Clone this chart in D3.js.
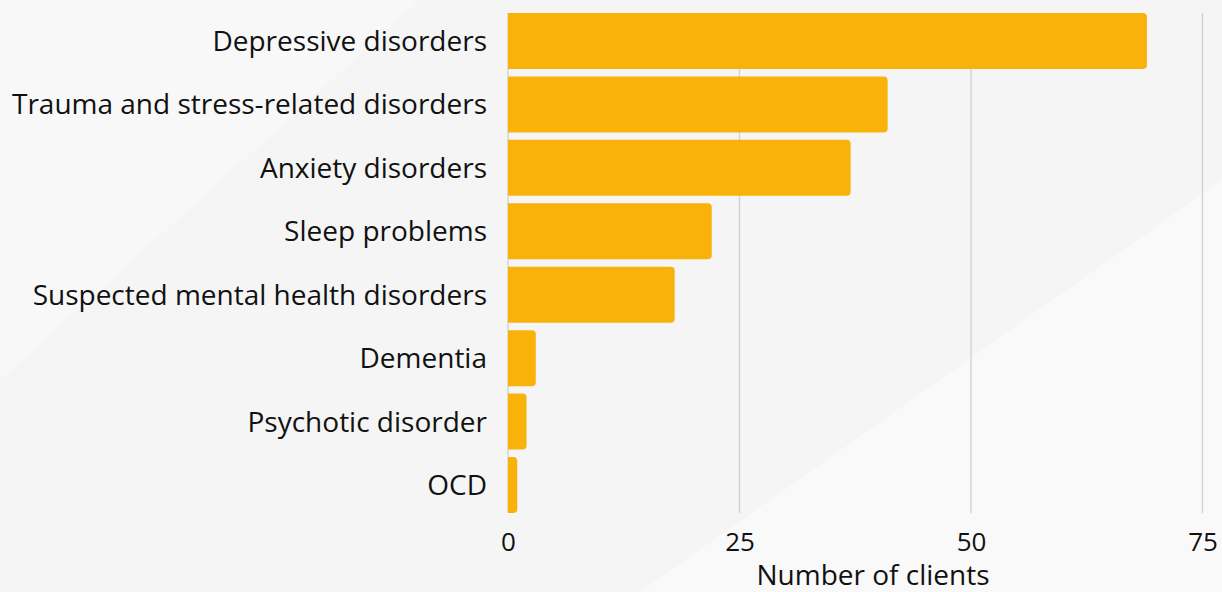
<!DOCTYPE html>
<html><head><meta charset="utf-8">
<script src="https://cdn.jsdelivr.net/npm/d3@7"></script>
<style>html,body{margin:0;padding:0;background:#f6f6f6;}svg{display:block;}</style>
</head><body>
<svg id="chart" width="1222" height="592"></svg>
<script>
const categories = ["Depressive disorders","Trauma and stress-related disorders","Anxiety disorders","Sleep problems","Suspected mental health disorders","Dementia","Psychotic disorder","OCD"];
const values = [69, 41, 37, 22, 18, 3, 2, 1];
const tickValues = [0, 25, 50, 75];
const axisTitle = "Number of clients";

const W = 1222, H = 592;
const svg = d3.select("#chart");
const font = "'Open Sans', sans-serif";

// subtle background shapes
svg.append("rect").attr("width", W).attr("height", H).attr("fill", "#f5f5f5");
svg.append("polygon").attr("points", "0,0 420,0 0,380").attr("fill", "#f8f8f8");
svg.append("polygon").attr("points", "640,592 1222,180 1222,592").attr("fill", "#f9f9f9");

const x = d3.scaleLinear().domain([0, 75]).range([508, 1202.5]);
const y = d3.scaleBand().domain(categories).range([9.3, 516.7]).paddingInner(0.117).paddingOuter(0.058);

// gridlines
svg.append("g").selectAll("line").data(tickValues).join("line")
  .attr("x1", d => x(d)).attr("x2", d => x(d))
  .attr("y1", 13).attr("y2", 513)
  .attr("stroke", "#cfcfcf").attr("stroke-width", 1.3);

// bars with right rounded corners
const r = 4;
svg.append("g").selectAll("path").data(values).join("path")
  .attr("fill", "#F9B20A")
  .attr("d", (d, i) => {
    const x0 = x(0), x1 = x(d), y0 = y(categories[i]), h = y.bandwidth();
    const rr = Math.min(r, (x1 - x0) / 2);
    return `M${x0},${y0}H${x1 - rr}Q${x1},${y0} ${x1},${y0 + rr}V${y0 + h - rr}Q${x1},${y0 + h} ${x1 - rr},${y0 + h}H${x0}Z`;
  });

// y labels
svg.append("g").selectAll("text").data(categories).join("text")
  .attr("x", 487).attr("y", d => y(d) + y.bandwidth() / 2)
  .attr("dy", "0.36em").attr("text-anchor", "end")
  .attr("font-family", font).attr("font-size", 28).attr("fill", "#111")
  .text(d => d);

// x ticks
const xAxis = d3.axisBottom(x).tickValues(tickValues).tickSize(0).tickPadding(0);
const gx = svg.append("g").attr("transform", "translate(0,532)").call(xAxis);
gx.select(".domain").remove();
gx.selectAll("text").attr("font-family", font).attr("font-size", 26).attr("fill", "#111").attr("dy", "0.74em");

svg.append("text").attr("x", 873).attr("y", 585).attr("text-anchor", "middle")
  .attr("font-family", font).attr("font-size", 28).attr("fill", "#111").text(axisTitle);
</script>
</body></html>
